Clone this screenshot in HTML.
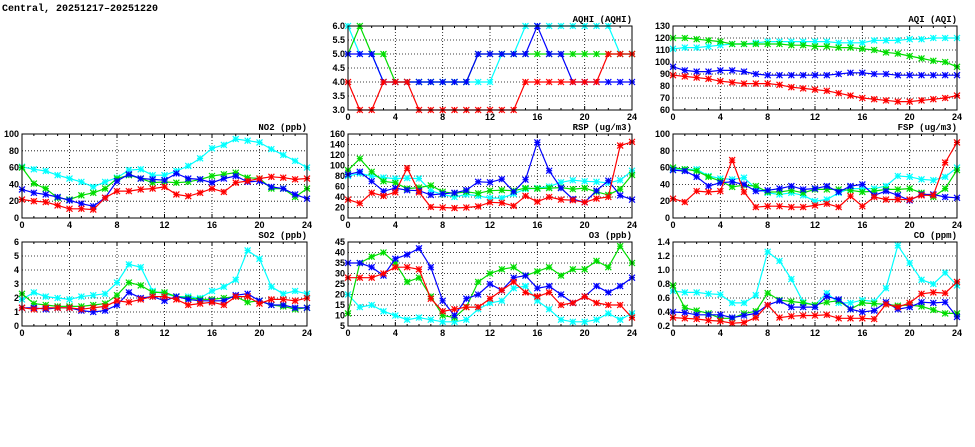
<!DOCTYPE html>
<html><head><meta charset="utf-8"><style>
body{margin:0;background:#fff;width:975px;height:447px;overflow:hidden}
svg{display:block}
text{font-family:"Liberation Sans",sans-serif;font-weight:bold;font-size:9px;fill:#000}
</style></head><body>
<svg id="chart" width="975" height="447" viewBox="0 0 975 447">
<text x="2" y="11" style="font-family:'Liberation Mono',monospace;font-size:10px">Central, 20251217–20251220</text>
</svg>
<script>
const hours=[0,1,2,3,4,5,6,7,8,9,10,11,12,13,14,15,16,17,18,19,20,21,22,23,24];
const seriesColors=["#00ffff","#00dd00","#0000ff","#ff0000"];
const aqhiCyan=[6,5,5,4,4,4,4,4,4,4,4,4,4,5,5,6,6,6,6,6,6,6,6,5,5];
const aqhiGreen=[5,6,5,5,4,4,4,4,4,4,4,5,5,5,5,5,5,5,5,5,5,5,5,5,5];
const aqhiBlue=[5,5,5,4,4,4,4,4,4,4,4,5,5,5,5,5,6,5,5,4,4,4,4,4,4];
const aqhiRed=[4,3,3,4,4,4,3,3,3,3,3,3,3,3,3,4,4,4,4,4,4,4,5,5,5];
const aqiCyan=[111,112,112,113,114,115,115,116,117,117,117,117,117,117,116,116,116,118,118,118,119,119,120,120,120];
const aqiGreen=[120,120,119,118,117,115,115,115,115,115,114,114,113,113,112,112,111,110,108,107,105,103,101,100,96];
const aqiBlue=[96,93,92,92,93,93,92,90,89,89,89,89,89,89,90,91,91,90,90,89,89,89,89,89,89];
const aqiRed=[89,88,87,86,84,83,82,82,82,81,79,78,77,76,74,72,70,69,68,67,67,68,69,70,72];
const no2Cyan=[61,58,56,51,47,43,37,43,48,57,58,51,51,56,62,71,83,87,94,92,90,82,75,68,60];
const no2Green=[60,41,35,24,22,27,30,35,47,51,47,42,43,42,43,46,50,52,54,48,47,35,35,25,35];
const no2Blue=[34,30,28,25,21,17,14,24,44,52,47,46,45,53,47,46,42,47,50,43,44,37,35,28,23];
const no2Red=[22,20,19,15,11,11,10,24,32,32,34,35,37,28,26,30,35,31,42,44,47,49,48,46,47];
const rspCyan=[80,85,80,77,75,76,75,52,45,40,45,42,38,38,46,55,57,60,68,72,70,69,67,72,90];
const rspGreen=[91,113,88,70,67,56,58,62,50,47,50,47,52,53,52,57,56,57,58,55,57,50,44,55,82];
const rspBlue=[83,88,70,51,57,53,52,44,46,48,53,69,68,74,50,73,144,90,57,36,30,52,71,43,35];
const rspRed=[35,28,48,42,49,95,49,21,20,19,20,22,30,29,23,42,31,40,35,34,30,37,40,138,145];
const fspCyan=[58,58,58,50,47,46,48,35,30,28,30,27,20,22,30,35,35,35,38,50,49,46,45,49,60];
const fspGreen=[60,58,56,49,44,37,39,38,31,31,33,30,34,34,34,33,31,32,34,34,35,30,25,35,57];
const fspBlue=[57,56,49,38,42,43,40,32,33,35,38,34,35,38,31,38,40,27,32,27,21,28,28,25,24];
const fspRed=[23,19,32,31,32,69,31,13,14,14,13,13,15,17,13,26,14,25,22,22,22,27,27,66,90];
const so2Cyan=[1.9,2.4,2.1,2.0,1.9,2.1,2.2,2.3,3.1,4.4,4.2,2.5,2.3,2.1,2.1,2.0,2.5,2.8,3.3,5.4,4.8,2.8,2.3,2.5,2.3];
const so2Green=[2.3,1.6,1.5,1.4,1.4,1.4,1.5,1.6,2.2,3.1,2.9,2.4,2.4,2.1,2.0,1.9,1.9,2.0,2.1,1.7,1.8,1.5,1.4,1.2,1.3];
const so2Blue=[1.3,1.3,1.2,1.3,1.3,1.1,1.0,1.1,1.5,2.4,2.0,2.1,1.8,2.1,1.9,1.8,1.8,1.8,2.2,2.3,1.8,1.5,1.5,1.3,1.3];
const so2Red=[1.3,1.2,1.3,1.3,1.3,1.2,1.3,1.4,1.8,1.7,1.9,2.1,2.1,1.9,1.5,1.6,1.7,1.5,2.1,2.1,1.6,1.9,1.9,1.8,2.0];
const o3Cyan=[20,14,15,12,10,8,9,8,7,7,8,13,16,17,23,24,17,13,8,7,7,8,11,8,11];
const o3Green=[11,35,38,40,35,26,28,19,10,9,14,26,30,32,33,29,31,33,29,32,32,36,33,43,35];
const o3Blue=[35,35,33,29,37,39,42,33,17,10,18,20,25,22,28,29,23,24,20,16,19,24,21,24,28];
const o3Red=[28,28,28,30,33,33,32,18,12,13,14,14,18,22,26,21,19,21,15,16,19,16,15,15,9];
const coCyan=[0.70,0.68,0.68,0.66,0.65,0.53,0.53,0.64,1.26,1.13,0.87,0.54,0.50,0.67,0.53,0.53,0.57,0.55,0.74,1.35,1.10,0.86,0.80,0.96,0.78];
const coGreen=[0.78,0.46,0.42,0.38,0.31,0.31,0.38,0.41,0.67,0.57,0.55,0.53,0.50,0.54,0.56,0.44,0.53,0.52,0.51,0.49,0.50,0.48,0.43,0.38,0.38];
const coBlue=[0.40,0.39,0.36,0.36,0.36,0.32,0.35,0.38,0.50,0.56,0.47,0.47,0.47,0.62,0.58,0.44,0.40,0.42,0.54,0.44,0.47,0.54,0.53,0.54,0.33];
const coRed=[0.32,0.31,0.30,0.28,0.27,0.24,0.25,0.32,0.50,0.32,0.34,0.35,0.35,0.36,0.31,0.31,0.31,0.30,0.51,0.47,0.53,0.66,0.68,0.67,0.83];
const xTicks=[0,4,8,12,16,20,24];
const aqhiTicks=["3.0","3.5","4.0","4.5","5.0","5.5","6.0"];
const aqiTicks=["60","70","80","90","100","110","120","130"];
const no2Ticks=["0","20","40","60","80","100"];
const rspTicks=["0","20","40","60","80","100","120","140","160"];
const fspTicks=["0","20","40","60","80","100"];
const so2Ticks=["0","1","2","3","4","5","6"];
const o3Ticks=["5","10","15","20","25","30","35","40","45"];
const coTicks=["0.2","0.4","0.6","0.8","1.0","1.2","1.4"];

const NS="http://www.w3.org/2000/svg";
const svg=document.getElementById('chart');
function mk(tag,attrs,parent){const e=document.createElementNS(NS,tag);for(const k in attrs)e.setAttribute(k,attrs[k]);(parent||svg).appendChild(e);return e;}
const panels=[
 {name:"aqhi",title:"AQHI (AQHI)",x0:348,x1:632,y0:26,y1:110,ticks:aqhiTicks,series:[aqhiCyan,aqhiGreen,aqhiBlue,aqhiRed]},
 {name:"aqi",title:"AQI (AQI)",x0:673,x1:957,y0:26,y1:110,ticks:aqiTicks,series:[aqiCyan,aqiGreen,aqiBlue,aqiRed]},
 {name:"no2",title:"NO2 (ppb)",x0:22,x1:307,y0:134,y1:218,ticks:no2Ticks,series:[no2Cyan,no2Green,no2Blue,no2Red]},
 {name:"rsp",title:"RSP (ug/m3)",x0:348,x1:632,y0:134,y1:218,ticks:rspTicks,series:[rspCyan,rspGreen,rspBlue,rspRed]},
 {name:"fsp",title:"FSP (ug/m3)",x0:673,x1:957,y0:134,y1:218,ticks:fspTicks,series:[fspCyan,fspGreen,fspBlue,fspRed]},
 {name:"so2",title:"SO2 (ppb)",x0:22,x1:307,y0:242,y1:326,ticks:so2Ticks,series:[so2Cyan,so2Green,so2Blue,so2Red]},
 {name:"o3",title:"O3 (ppb)",x0:348,x1:632,y0:242,y1:326,ticks:o3Ticks,series:[o3Cyan,o3Green,o3Blue,o3Red]},
 {name:"co",title:"CO (ppm)",x0:673,x1:957,y0:242,y1:326,ticks:coTicks,series:[coCyan,coGreen,coBlue,coRed]}
];
const colNames=["cyan","green","blue","red"];
panels.forEach(p=>{
 const g=mk('g',{});
 
 
 const tv=p.ticks.map(Number),ymin=tv[0],ymax=tv[tv.length-1];
 const X=v=>p.x0+(v-0)/24*(p.x1-p.x0);
 const Y=v=>p.y1-(v-ymin)/(ymax-ymin)*(p.y1-p.y0);
 // grid
 xTicks.forEach(t=>{if(t>0&&t<24){const l=mk('line',{x1:X(t),x2:X(t),y1:p.y0,y2:p.y1,stroke:'#000','stroke-width':0.8,'stroke-dasharray':'1,2'},g);}});
 tv.forEach(t=>{if(t>ymin&&t<ymax){const l=mk('line',{x1:p.x0,x2:p.x1,y1:Y(t),y2:Y(t),stroke:'#000','stroke-width':0.8,'stroke-dasharray':'1,2'},g);}});
 // minor x ticks
 hours.forEach(h=>{mk('line',{x1:X(h),x2:X(h),y1:p.y1,y2:p.y1-(h%4?2:4),stroke:'#000','stroke-width':1},g);mk('line',{x1:X(h),x2:X(h),y1:p.y0,y2:p.y0+(h%4?2:4),stroke:'#000','stroke-width':1},g);});
 // series
 p.series.forEach((arr,si)=>{
  const pts=arr.map((v,i)=>X(hours[i]).toFixed(1)+','+Y(v).toFixed(1)).join(' ');
  const pl=mk('polyline',{points:pts,fill:'none',stroke:seriesColors[si],'stroke-width':1.2},g);
  
  
  arr.forEach((v,i)=>{
   const cx=X(hours[i]),cy=Y(v),r=3;
   const m=mk('path',{d:`M${cx-r},${cy-r}L${cx+r},${cy+r}M${cx-r},${cy+r}L${cx+r},${cy-r}M${cx},${cy-r}L${cx},${cy+r}M${cx-r},${cy}L${cx+r},${cy}`,stroke:seriesColors[si],'stroke-width':1.2,fill:'none'},g);
   
   
  });
 });
 // frame
 const fr=mk('rect',{x:p.x0,y:p.y0,width:p.x1-p.x0,height:p.y1-p.y0,fill:'none',stroke:'#000','stroke-width':1},g);
 
 
 // labels
 xTicks.forEach(t=>{const tx=mk('text',{x:X(t),y:p.y1+10,'text-anchor':'middle'},g);tx.textContent=String(t);});
 p.ticks.forEach(t=>{const tx=mk('text',{x:p.x0-3,y:Y(Number(t))+3,'text-anchor':'end'},g);tx.textContent=t;});
 const tt=mk('text',{x:p.x1,y:p.y0-4,'text-anchor':'end',style:"font-family:'Liberation Mono',monospace;font-size:9px"},g);
 tt.textContent=p.title;
 
 
});
</script>
</body></html>
